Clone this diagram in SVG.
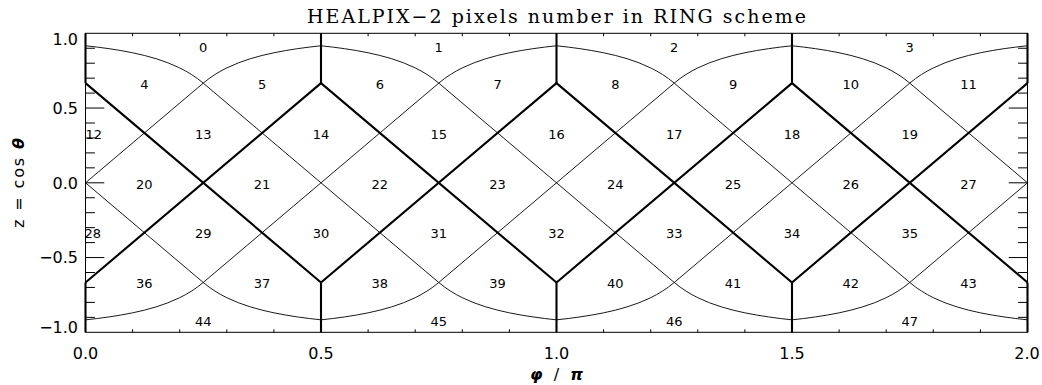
<svg xmlns="http://www.w3.org/2000/svg" xmlns:xlink="http://www.w3.org/1999/xlink" width="1042" height="385" viewBox="0 0 1042 385">
<style>
.thin{fill:none;stroke:#000;stroke-width:0.9}
.thick{fill:none;stroke:#000;stroke-width:2.1}
.frame{fill:none;stroke:#000;stroke-width:1}
.tick{fill:none;stroke:#000;stroke-width:1}
.num{font-family:"DejaVu Sans","Liberation Sans",sans-serif;font-size:13px;text-anchor:middle;fill:#000}
.ax{font-family:"DejaVu Sans","Liberation Sans",sans-serif;font-size:16px;fill:#000}
.title{font-family:"DejaVu Serif","Liberation Serif",serif;font-size:19px;fill:#000}
</style>
<defs>
<polyline id="cap" class="thin" points="85.5,45.76 97.28,47.1 109.05,48.68 120.83,50.54 132.6,52.77 144.38,55.45 156.15,58.73 167.93,62.79 179.7,67.91 185.59,70.98 191.48,74.48 197.36,78.5 203.25,83.13 209.14,78.5 215.02,74.48 220.91,70.98 226.8,67.91 238.57,62.79 250.35,58.73 262.12,55.45 273.9,52.77 285.67,50.54 297.45,48.68 309.22,47.1 321,45.76"/>
</defs>
<rect width="1042" height="385" fill="#fff"/>
<text id="title" class="title" x="556.5" y="22.7" text-anchor="middle" textLength="499" lengthAdjust="spacing">HEALPIX−2 pixels number in RING scheme</text>
<g id="frame">
<rect class="frame" x="85.5" y="33.3" width="942" height="299"/>
<path class="tick" d="M132.6 332.3v-3M179.7 332.3v-3M226.8 332.3v-3M273.9 332.3v-3M321 332.3v-6M368.1 332.3v-3M415.2 332.3v-3M462.3 332.3v-3M509.4 332.3v-3M556.5 332.3v-6M603.6 332.3v-3M650.7 332.3v-3M697.8 332.3v-3M744.9 332.3v-3M792 332.3v-6M839.1 332.3v-3M886.2 332.3v-3M933.3 332.3v-3M980.4 332.3v-3"/>
<path class="tick" d="M132.6 33.3v3M179.7 33.3v3M226.8 33.3v3M273.9 33.3v3M321 33.3v6M368.1 33.3v3M415.2 33.3v3M462.3 33.3v3M509.4 33.3v3M556.5 33.3v6M603.6 33.3v3M650.7 33.3v3M697.8 33.3v3M744.9 33.3v3M792 33.3v6M839.1 33.3v3M886.2 33.3v3M933.3 33.3v3M980.4 33.3v3"/>
<path class="tick" d="M85.5 48.25h9.4M85.5 63.2h9.4M85.5 78.15h9.4M85.5 93.1h9.4M85.5 108.05h18.8M85.5 123h9.4M85.5 137.95h9.4M85.5 152.9h9.4M85.5 167.85h9.4M85.5 182.8h18.8M85.5 197.75h9.4M85.5 212.7h9.4M85.5 227.65h9.4M85.5 242.6h9.4M85.5 257.55h18.8M85.5 272.5h9.4M85.5 287.45h9.4M85.5 302.4h9.4M85.5 317.35h9.4"/>
<path class="tick" d="M1027.5 48.25h-9.4M1027.5 63.2h-9.4M1027.5 78.15h-9.4M1027.5 93.1h-9.4M1027.5 108.05h-18.8M1027.5 123h-9.4M1027.5 137.95h-9.4M1027.5 152.9h-9.4M1027.5 167.85h-9.4M1027.5 182.8h-18.8M1027.5 197.75h-9.4M1027.5 212.7h-9.4M1027.5 227.65h-9.4M1027.5 242.6h-9.4M1027.5 257.55h-18.8M1027.5 272.5h-9.4M1027.5 287.45h-9.4M1027.5 302.4h-9.4M1027.5 317.35h-9.4"/>
</g>
<g id="axis-labels">
<g class="ax" text-anchor="middle">
<text x="85.5" y="358.5">0.0</text>
<text x="321" y="358.5">0.5</text>
<text x="556.5" y="358.5">1.0</text>
<text x="792" y="358.5">1.5</text>
<text x="1027" y="358.5">2.0</text>
</g>
<g class="ax" text-anchor="end">
<text x="78" y="45">1.0</text>
<text x="78" y="113.9">0.5</text>
<text x="78" y="188.7">0.0</text>
<text x="78" y="263.4">−0.5</text>
<text x="78" y="332.5">−1.0</text>
</g>
<text class="ax" font-size="17" transform="translate(24,183) rotate(-90)" text-anchor="middle" textLength="90" lengthAdjust="spacing">z = cos <tspan font-weight="bold" font-style="italic">θ</tspan></text>
<text class="ax" font-size="17" x="556.5" y="380" text-anchor="middle" textLength="53" lengthAdjust="spacing"><tspan font-weight="bold" font-style="italic">φ</tspan> / <tspan font-weight="bold" font-style="italic">π</tspan></text>
</g>
<g id="connectors">
<g id="caps">
<use xlink:href="#cap"/>
<use xlink:href="#cap" transform="translate(235.5,0)"/>
<use xlink:href="#cap" transform="translate(471,0)"/>
<use xlink:href="#cap" transform="translate(706.5,0)"/>
<use xlink:href="#cap" transform="matrix(1,0,0,-1,0,365.6)"/>
<use xlink:href="#cap" transform="matrix(1,0,0,-1,235.5,365.6)"/>
<use xlink:href="#cap" transform="matrix(1,0,0,-1,471,365.6)"/>
<use xlink:href="#cap" transform="matrix(1,0,0,-1,706.5,365.6)"/>
</g>
<path id="thin-diagonals" class="thin" d="M85.5 182.8L203.25 83.13M85.5 182.8L203.25 282.47M203.25 282.47L438.75 83.13M203.25 83.13L438.75 282.47M438.75 282.47L674.25 83.13M438.75 83.13L674.25 282.47M674.25 282.47L909.75 83.13M674.25 83.13L909.75 282.47M909.75 83.13L1027.5 182.8M909.75 282.47L1027.5 182.8"/>
<path id="thick-diagonals" class="thick" d="M85.5 83.13L321 282.47M85.5 282.47L321 83.13M321 83.13L556.5 282.47M321 282.47L556.5 83.13M556.5 83.13L792 282.47M556.5 282.47L792 83.13M792 83.13L1027.5 282.47M792 282.47L1027.5 83.13"/>
<path id="thick-meridians" class="thick" d="M85.5 33.3V83.13M321 33.3V83.13M556.5 33.3V83.13M792 33.3V83.13M1027.5 33.3V83.13M85.5 282.47V332.3M321 282.47V332.3M556.5 282.47V332.3M792 282.47V332.3M1027.5 282.47V332.3"/>
</g>
<g id="pixels" class="num">
<g id="ring1"><text x="203.25" y="51.5">0</text><text x="438.75" y="51.5">1</text><text x="674.25" y="51.5">2</text><text x="909.75" y="51.5">3</text></g>
<g id="ring2"><text x="144.38" y="88.8">4</text><text x="262.13" y="88.8">5</text><text x="379.88" y="88.8">6</text><text x="497.63" y="88.8">7</text><text x="615.38" y="88.8">8</text><text x="733.13" y="88.8">9</text><text x="850.88" y="88.8">10</text><text x="968.63" y="88.8">11</text></g>
<g id="ring3"><text x="85.5" y="138.7" text-anchor="start">12</text><text x="203.25" y="138.7">13</text><text x="321" y="138.7">14</text><text x="438.75" y="138.7">15</text><text x="556.5" y="138.7">16</text><text x="674.25" y="138.7">17</text><text x="792" y="138.7">18</text><text x="909.75" y="138.7">19</text></g>
<g id="ring4"><text x="144.38" y="188.5">20</text><text x="262.13" y="188.5">21</text><text x="379.88" y="188.5">22</text><text x="497.63" y="188.5">23</text><text x="615.38" y="188.5">24</text><text x="733.13" y="188.5">25</text><text x="850.88" y="188.5">26</text><text x="968.63" y="188.5">27</text></g>
<g id="ring5"><text x="84.5" y="238.3" text-anchor="start">28</text><text x="203.25" y="238.3">29</text><text x="321" y="238.3">30</text><text x="438.75" y="238.3">31</text><text x="556.5" y="238.3">32</text><text x="674.25" y="238.3">33</text><text x="792" y="238.3">34</text><text x="909.75" y="238.3">35</text></g>
<g id="ring6"><text x="144.38" y="288.2">36</text><text x="262.13" y="288.2">37</text><text x="379.88" y="288.2">38</text><text x="497.63" y="288.2">39</text><text x="615.38" y="288.2">40</text><text x="733.13" y="288.2">41</text><text x="850.88" y="288.2">42</text><text x="968.63" y="288.2">43</text></g>
<g id="ring7"><text x="203.25" y="325.5">44</text><text x="438.75" y="325.5">45</text><text x="674.25" y="325.5">46</text><text x="909.75" y="325.5">47</text></g>
</g>
</svg>
